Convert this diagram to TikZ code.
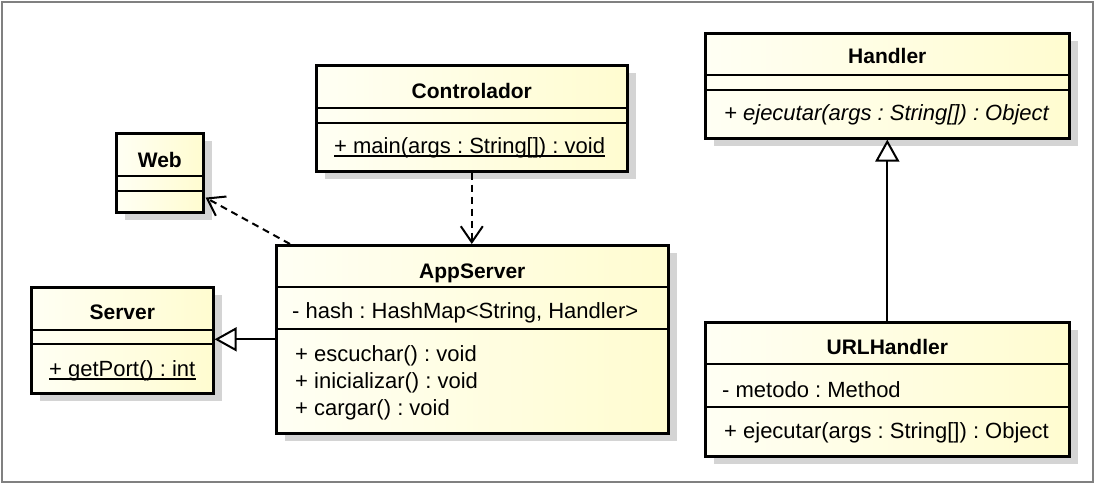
\documentclass[tikz,border=0pt]{standalone}
\usepackage{fontspec}
\setmainfont{Liberation Sans}
\usepackage{tikz}
\usetikzlibrary{arrows.meta,positioning,shadows}
\definecolor{classleft}{RGB}{255,255,244}
\definecolor{classright}{RGB}{255,252,208}
\definecolor{framegray}{RGB}{128,128,128}
\frenchspacing

\begin{document}
\begin{tikzpicture}[
  x=1pt,y=-1pt,
  umlclass/.style={rectangle,draw=black,line width=2.6pt,inner sep=0pt,anchor=north west,left color=classleft,right color=classright,drop shadow={shadow xshift=9pt,shadow yshift=-8pt,fill=black!17,opacity=1}},
  cname/.style={anchor=base,inner sep=0pt,font=\fontsize{21}{25}\selectfont\bfseries},
  member/.style={anchor=base west,inner sep=0pt,font=\fontsize{22}{26}\selectfont},
  sep/.style={line width=1.3pt},
  uline/.style={line width=1.3pt},
  dep/.style={line width=2pt,dash pattern=on 7pt off 5pt,-{Straight Barb[length=16pt,width=22pt,line width=2pt]}},
  gen/.style={line width=2pt,-{Triangle[open,length=22pt,width=24pt,line width=2pt,fill=white]}}
]
  \useasboundingbox (0,0) rectangle (1098,496);
  \draw[framegray,line width=2pt] (2,2) rectangle (1093,482);

  \node[umlclass,minimum width=87pt,minimum height=79pt] (web) at (115,132) {};
  \node[umlclass,minimum width=182pt,minimum height=106pt] (server) at (30,286) {};
  \node[umlclass,minimum width=311pt,minimum height=106pt] (controlador) at (315,64) {};
  \node[umlclass,minimum width=392pt,minimum height=188pt] (appserver) at (275,244) {};
  \node[umlclass,minimum width=364pt,minimum height=105pt] (handler) at (704,32) {};
  \node[umlclass,minimum width=364pt,minimum height=134pt] (urlhandler) at (704,321) {};

  \draw[sep] (web.west |- 0,176) -- (web.east |- 0,176);
  \draw[sep] (web.west |- 0,191) -- (web.east |- 0,191);
  \draw[sep] (server.west |- 0,330) -- (server.east |- 0,330);
  \draw[sep] (server.west |- 0,344) -- (server.east |- 0,344);
  \draw[sep] (controlador.west |- 0,108) -- (controlador.east |- 0,108);
  \draw[sep] (controlador.west |- 0,123) -- (controlador.east |- 0,123);
  \draw[sep] (appserver.west |- 0,287) -- (appserver.east |- 0,287);
  \draw[sep] (appserver.west |- 0,329) -- (appserver.east |- 0,329);
  \draw[sep] (handler.west |- 0,75) -- (handler.east |- 0,75);
  \draw[sep] (handler.west |- 0,90) -- (handler.east |- 0,90);
  \draw[sep] (urlhandler.west |- 0,364) -- (urlhandler.east |- 0,364);
  \draw[sep] (urlhandler.west |- 0,407) -- (urlhandler.east |- 0,407);

  \node[cname] (web-name) at (web.north |- 0,167) {Web};
  \node[cname] (server-name) at (server.north |- 0,319) {Server};
  \node[cname] (controlador-name) at (controlador.north |- 0,98) {Controlador};
  \node[cname] (appserver-name) at (appserver.north |- 0,278) {AppServer};
  \node[cname] (handler-name) at (handler.north |- 0,63) {Handler};
  \node[cname] (urlhandler-name) at (urlhandler.north |- 0,354) {URLHandler};

  \node[member] (getport) at (49,376) {+ getPort() : int};
  \node[member] (main) at (334,153) {+ main(args : String[]) : void};
  \node[member] (hash) at (292,318) {- hash : HashMap<String, Handler>};
  \node[member] (escuchar) at (295,361) {+ escuchar() : void};
  \node[member] (inicializar) at (295,388) {+ inicializar() : void};
  \node[member] (cargar) at (295,415) {+ cargar() : void};
  \node[member,font=\fontsize{22}{26}\selectfont\itshape] (ejecutar-abs) at (724,120) {+ ejecutar(args : String[]) : Object};
  \node[member] (metodo) at (722,397) {- metodo : Method};
  \node[member] (ejecutar) at (724,438) {+ ejecutar(args : String[]) : Object};

  \draw[uline] ([yshift=-3pt]getport.base west) -- ([yshift=-3pt]getport.base east);
  \draw[uline] ([yshift=-3pt]main.base west) -- ([yshift=-3pt]main.base east);

  \draw[dep] (controlador.south) -- (controlador.south |- appserver.north);
  \draw[dep] ([xshift=15pt]appserver.north west) -- ([xshift=1pt,yshift=16pt]web.south east);
  \draw[gen] (appserver.west) -- (appserver.west -| server.east);
  \draw[gen] (urlhandler.north) -- (handler.south);
\end{tikzpicture}
\end{document}
